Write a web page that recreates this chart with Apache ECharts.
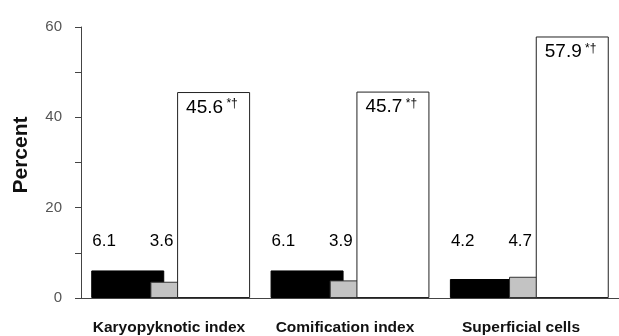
<!DOCTYPE html>
<html>
<head>
<meta charset="utf-8">
<script src="https://cdn.jsdelivr.net/npm/echarts@6/dist/echarts.min.js"></script>
<style>html,body{margin:0;padding:0;background:#fff}#c{width:619px;height:336px}</style>
</head>
<body>
<div id="c"></div>
<script>
var categories = ['Karyopyknotic index', 'Comification index', 'Superficial cells'];
var blackValues = [6.1, 6.1, 4.2];
var grayValues = [3.6, 3.9, 4.7];
var whiteValues = [45.6, 45.7, 57.9];
var whiteMarks = ['*†', '*†', '*†'];
var yTicks = [0, 20, 40, 60];

var FONT = 'Liberation Sans, Arial, Helvetica, sans-serif';
var chart = echarts.init(document.getElementById('c'), null, {renderer: 'canvas'});

var option = {
  backgroundColor: '#fff',
  animation: false,
  grid: [
    {left: 81, right: -4, top: 27, bottom: 38},
    {left: 81, right: 10, top: 27, bottom: 38}
  ],
  xAxis: [
    {
      type: 'category', gridIndex: 0, data: categories,
      axisLine: {lineStyle: {color: '#444', width: 1}},
      axisTick: {show: false},
      axisLabel: {show: false}
    },
    {
      type: 'category', gridIndex: 1, data: categories,
      axisLine: {show: false},
      axisTick: {show: false},
      axisLabel: {show: true, interval: 0, color: '#111', fontFamily: FONT, fontWeight: 'bold', fontSize: 15.5, margin: 23}
    }
  ],
  yAxis: [
    {
      type: 'value', gridIndex: 0, min: 0, max: 60, interval: 10,
      name: 'Percent', nameLocation: 'middle', nameGap: 49,
      nameTextStyle: {fontFamily: FONT, fontWeight: 'bold', fontSize: 21, color: '#111', padding: [0, 0, 0, 15]},
      axisLine: {show: true, lineStyle: {color: '#444', width: 1}},
      axisTick: {show: true, inside: false, length: 6, lineStyle: {color: '#444'}},
      splitLine: {show: false},
      axisLabel: {
        color: '#555', fontFamily: FONT, fontSize: 15, margin: 19,
        formatter: function (v) { return yTicks.indexOf(v) >= 0 ? String(v) : ''; }
      }
    },
    {type: 'value', gridIndex: 1, min: 0, max: 60, show: false}
  ],
  series: [
    {
      type: 'bar', name: 'black', xAxisIndex: 0, yAxisIndex: 0,
      data: blackValues, barWidth: 73, barGap: '-19%',
      itemStyle: {color: '#000', borderColor: '#000', borderWidth: 1},
      label: {
        show: true, position: 'insideBottomLeft', distance: 0, offset: [1, -48],
        color: '#000', fontFamily: FONT, fontSize: 17,
        formatter: function (p) { return p.value.toFixed(1); }
      }
    },
    {
      type: 'bar', name: 'gray', xAxisIndex: 0, yAxisIndex: 0,
      data: grayValues, barWidth: 33, barGap: '-19%',
      itemStyle: {color: '#c3c3c3', borderColor: '#333', borderWidth: 1},
      label: {
        show: true, position: 'insideBottomRight', distance: 0, offset: [-10, -48],
        color: '#000', fontFamily: FONT, fontSize: 17,
        formatter: function (p) { return p.value.toFixed(1); }
      }
    },
    {
      type: 'bar', name: 'white', xAxisIndex: 0, yAxisIndex: 0,
      data: whiteValues, barWidth: 73, barGap: '-19%',
      itemStyle: {color: '#fff', borderColor: '#222', borderWidth: 1},
      label: {
        show: true, position: 'insideTopLeft', distance: 0, offset: [9, 6],
        color: '#000', fontFamily: FONT,
        formatter: function (p) { return '{v|' + p.value.toFixed(1) + '}{s| ' + whiteMarks[p.dataIndex] + '}'; },
        rich: {
          v: {fontSize: 19, fontFamily: FONT, color: '#000'},
          s: {fontSize: 12, fontFamily: FONT, color: '#000', padding: [0, 0, 7, 0]}
        }
      }
    }
  ]
};
chart.setOption(option);
</script>
</body>
</html>
